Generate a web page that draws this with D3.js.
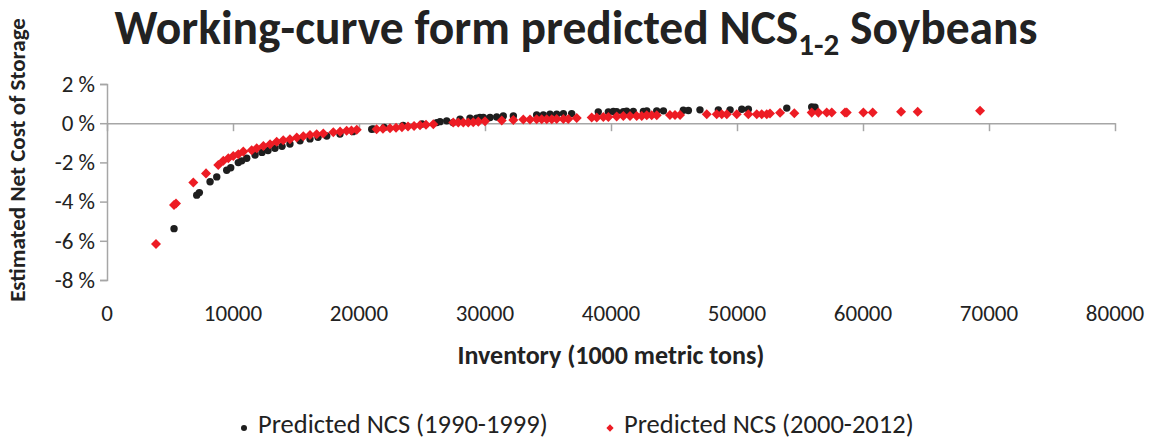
<!DOCTYPE html>
<html>
<head>
<meta charset="utf-8">
<script src="https://cdn.jsdelivr.net/npm/d3@7/dist/d3.min.js"></script>
<style>
  html, body { margin: 0; padding: 0; background: #fff; }
  svg text { font-family: Carlito, Calibri, Lato, sans-serif; fill: #222; }
</style>
</head>
<body>
<div id="chart"></div>
<script>
// 1990-1999 predicted NCS: inventory (1000 t) and NCS in percent
var inv90 = [5320, 7120, 7330, 8180, 8710, 9500, 9820, 10420, 10690, 11090,
             11750, 12300, 12780, 13330, 13890, 14520, 15320, 16110, 16750, 17440,
             18490, 19520, 21010, 21140, 22000, 23500, 25000, 26170, 26430, 26960,
             27460, 28020, 28810, 29340, 29600, 29870, 30400, 30930, 31450, 32250,
             34100, 34630, 35160, 35690, 36220, 36880, 38990, 39790, 40190, 40450,
             40980, 41240, 41770, 42570, 42840, 43630, 44160, 45740, 46140, 47060,
             48520, 49450, 50380, 50900, 53950, 55930, 56190];
var ncs90 = [-5.38, -3.67, -3.54, -2.99, -2.74, -2.40, -2.27, -2.01, -1.92, -1.79,
             -1.62, -1.49, -1.39, -1.28, -1.18, -1.06, -0.90, -0.80, -0.72, -0.65,
             -0.55, -0.43, -0.31, -0.29, -0.22, -0.12, -0.04, 0.03, 0.08, 0.12,
             0.03, 0.20, 0.26, 0.26, 0.29, 0.29, 0.29, 0.32, 0.37, 0.37,
             0.42, 0.42, 0.46, 0.46, 0.49, 0.49, 0.58, 0.58, 0.60, 0.59,
             0.59, 0.61, 0.60, 0.60, 0.63, 0.63, 0.63, 0.66, 0.65, 0.68,
             0.68, 0.68, 0.71, 0.71, 0.77, 0.83, 0.81];

// 2000-2012 predicted NCS
var inv00 = [3890, 5320, 5475, 6850, 7860, 8830, 9230, 9630, 10020, 10420,
             10820, 11480, 11880, 12410, 12940, 13470, 13990, 14520, 15060, 15580,
             16110, 16640, 17170, 17960, 18500, 19020, 19400, 19820, 21400, 21900,
             22460, 22940, 23410, 23890, 24370, 24840, 25320, 25900, 27480, 27880,
             28280, 28670, 29070, 29470, 30000, 31330, 32250, 33040, 33570, 34100,
             34500, 34900, 35300, 35690, 36220, 36610, 37280, 38470, 38870, 39390,
             39790, 40450, 40980, 41510, 42040, 42440, 42840, 43230, 43630, 44680,
             45080, 45480, 47600, 48390, 48790, 49190, 49980, 50900, 51570, 51960,
             52360, 52620, 53420, 54550, 55930, 56460, 57120, 57520, 58570, 58710,
             60030, 60770, 63020, 64340, 69290];
var ncs00 = [-6.16, -4.17, -4.10, -3.03, -2.56, -2.13, -1.92, -1.79, -1.67, -1.58,
             -1.45, -1.38, -1.28, -1.16, -1.07, -0.95, -0.87, -0.82, -0.73, -0.66,
             -0.60, -0.56, -0.53, -0.46, -0.43, -0.39, -0.37, -0.34, -0.31, -0.28,
             -0.26, -0.23, -0.20, -0.17, -0.14, -0.11, -0.08, -0.05, 0.03, 0.03,
             0.03, 0.03, 0.05, 0.08, 0.10, 0.14, 0.16, 0.19, 0.19, 0.20,
             0.20, 0.20, 0.20, 0.22, 0.22, 0.22, 0.26, 0.29, 0.29, 0.32,
             0.32, 0.34, 0.37, 0.37, 0.37, 0.37, 0.41, 0.41, 0.41, 0.42,
             0.42, 0.42, 0.46, 0.46, 0.46, 0.46, 0.46, 0.46, 0.46, 0.46,
             0.46, 0.50, 0.53, 0.51, 0.54, 0.54, 0.55, 0.55, 0.55, 0.55,
             0.55, 0.55, 0.58, 0.58, 0.63];

var xTicks = [0, 10000, 20000, 30000, 40000, 50000, 60000, 70000, 80000];
var yTicks = [-8, -6, -4, -2, 0, 2];
var seriesNames = ['Predicted NCS (1990-1999)', 'Predicted NCS (2000-2012)'];

(function(){
    'use strict';
    var W = 1152, H = 439;
    var AXIS_COLOR = '#a6a6a6';
    var BLACK = '#1e1e1e';
    var RED = '#ed1c24';
    var TICK_FONT = '23px';

    var svg = d3.select('#chart').append('svg')
    .attr('width', W)
    .attr('height', H);

    var x = d3.scaleLinear().domain([0, 80000]).range([107, 1115]);
    var y = d3.scaleLinear().domain([-8, 2]).range([280, 84]);

    // title with subscript
    var title = svg.append('text')
    .attr('x', 576).attr('y', 44)
    .attr('text-anchor', 'middle')
    .style('font-size', '47.5px')
    .style('font-weight', 'bold');
    title.append('tspan').text('Working-curve form predicted NCS');
    title.append('tspan').attr('dy', 11).style('font-size', '31px').text('1-2');
    title.append('tspan').attr('dy', -11).text(' Soybeans');

    // y axis (ticks on the left)
    var yAxis = svg.append('g')
    .attr('transform', 'translate(' + x(0) + ',0)')
    .call(d3.axisLeft(y).tickValues(yTicks).tickSize(7).tickFormat(function(d){ return d + ' %'; }));
    yAxis.select('.domain').attr('stroke', AXIS_COLOR).attr('stroke-width', 1.5);
    yAxis.selectAll('.tick line').attr('stroke', AXIS_COLOR).attr('stroke-width', 1.5);
    yAxis.selectAll('.tick text')
    .attr('x', -12)
    .style('font-size', TICK_FONT)
    .attr('fill', '#222');

    // x axis sits on 0 %, labels are drawn low at the bottom of the plot
    var xAxis = svg.append('g')
    .attr('transform', 'translate(0,' + y(0) + ')')
    .call(d3.axisBottom(x).tickValues(xTicks).tickSize(8).tickSizeOuter(0).tickFormat(''));
    xAxis.select('.domain').attr('stroke', AXIS_COLOR).attr('stroke-width', 1.5);
    xAxis.selectAll('.tick line').attr('stroke', AXIS_COLOR).attr('stroke-width', 1.5);

    svg.append('g').selectAll('text')
    .data(xTicks)
    .enter().append('text')
    .attr('x', function(d){ return x(d); })
    .attr('y', 321)
    .attr('text-anchor', 'middle')
    .style('font-size', TICK_FONT)
    .text(function(d){ return d; });

    // axis titles
    svg.append('text')
    .attr('x', 611).attr('y', 364)
    .attr('text-anchor', 'middle')
    .style('font-size', '26px')
    .style('font-weight', 'bold')
    .text('Inventory (1000 metric tons)');

    svg.append('text')
    .attr('transform', 'translate(25,160) rotate(-90)')
    .attr('text-anchor', 'middle')
    .style('font-size', '23px')
    .style('font-weight', 'bold')
    .text('Estimated Net Cost of Storage');

    // points
    var pts90 = inv90.map(function(v, i){ return {x: v, y: ncs90[i]}; });
    var pts00 = inv00.map(function(v, i){ return {x: v, y: ncs00[i]}; });

    svg.append('g').selectAll('circle')
    .data(pts90)
    .enter().append('circle')
    .attr('cx', function(d){ return x(d.x); })
    .attr('cy', function(d){ return y(d.y); })
    .attr('r', 3.7)
    .attr('fill', BLACK);

    var diamond = d3.symbol().type(d3.symbolDiamond2).size(64);
    svg.append('g').selectAll('path')
    .data(pts00)
    .enter().append('path')
    .attr('d', diamond)
    .attr('transform', function(d){ return 'translate(' + x(d.x) + ',' + y(d.y) + ')'; })
    .attr('fill', RED);

    // legend
    var legend = svg.append('g');
    legend.append('circle')
    .attr('cx', 244).attr('cy', 428).attr('r', 3)
    .attr('fill', BLACK);
    legend.append('text')
    .attr('x', 258).attr('y', 433)
    .style('font-size', '26.5px')
    .text(seriesNames[0]);
    legend.append('path')
    .attr('d', d3.symbol().type(d3.symbolDiamond2).size(34))
    .attr('transform', 'translate(610,428)')
    .attr('fill', RED);
    legend.append('text')
    .attr('x', 624).attr('y', 433)
    .style('font-size', '26.5px')
    .text(seriesNames[1]);
})();
</script>
</body>
</html>
